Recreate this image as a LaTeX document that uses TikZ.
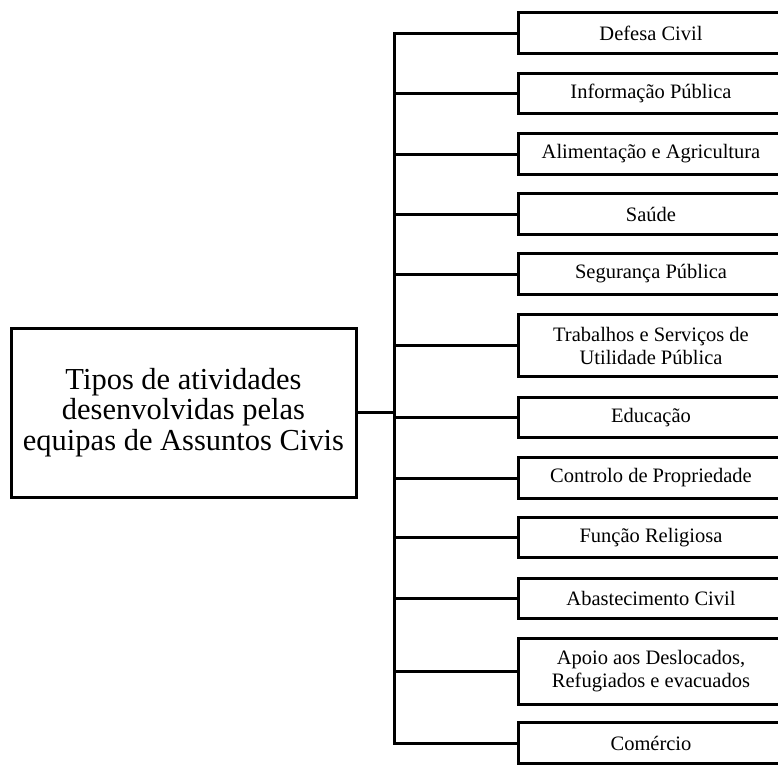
\documentclass[tikz,border=0pt]{standalone}
\usepackage{fontspec}
\setmainfont{Liberation Serif}
\begin{document}
\begin{tikzpicture}[x=1pt,y=-1pt,
  lw/.style={line width=3pt},
  mainbox/.style={lw,draw,rectangle,minimum width=345pt,minimum height=169pt,inner sep=0pt,align=center,
    font=\fontsize{30.5pt}{30.5pt}\selectfont},
  itembox/.style={rectangle,minimum width=264pt,minimum height=40pt,inner sep=0pt,align=center,
    font=\fontsize{20.5pt}{23pt}\selectfont},
  tallbox/.style={itembox,minimum height=#1},
  boxline/.style={lw,line join=miter}]
\useasboundingbox (0,0) rectangle (778,764);
\node[mainbox] (m) at (183.5,412.5) {Tipos de atividades\\desenvolvidas pelas\\equipas de Assuntos Civis};
\node[itembox] (b1) at (651,33) {Defesa Civil};
\node[itembox] (b2) at (651,93.5) {Informação Pública};
\node[itembox] (b3) at (651,154) {Alimentação e Agricultura};
\node[itembox] (b4) at (651,214) {Saúde};
\node[itembox] (b5) at (651,274) {Segurança Pública};
\node[tallbox=62pt] (b6) at (651,345.5) {Trabalhos e Serviços de\\Utilidade Pública};
\node[itembox] (b7) at (651,417.5) {Educação};
\node[itembox] (b8) at (651,478) {Controlo de Propriedade};
\node[itembox] (b9) at (651,537.5) {Função Religiosa};
\node[itembox] (b10) at (651,598.5) {Abastecimento Civil};
\node[tallbox=66pt] (b11) at (651,671.5) {Apoio aos Deslocados,\\Refugiados e evacuados};
\node[itembox] (b12) at (651,743) {Comércio};
\foreach \i in {1,...,12} {
  \draw[boxline] ([xshift=40pt]b\i.north east) -| (b\i.south west) -- ([xshift=40pt]b\i.south east);
}
\coordinate (t) at (394,0);
\draw[lw,line join=miter] (b1.west) -- (b1.west -| t) -- (b12.west -| t) -- (b12.west);
\foreach \i in {2,...,11} {\draw[lw] (b\i.west) -- (b\i.west -| t);}
\draw[lw] (m.east) -- (m.east -| t);
\end{tikzpicture}
\end{document}
